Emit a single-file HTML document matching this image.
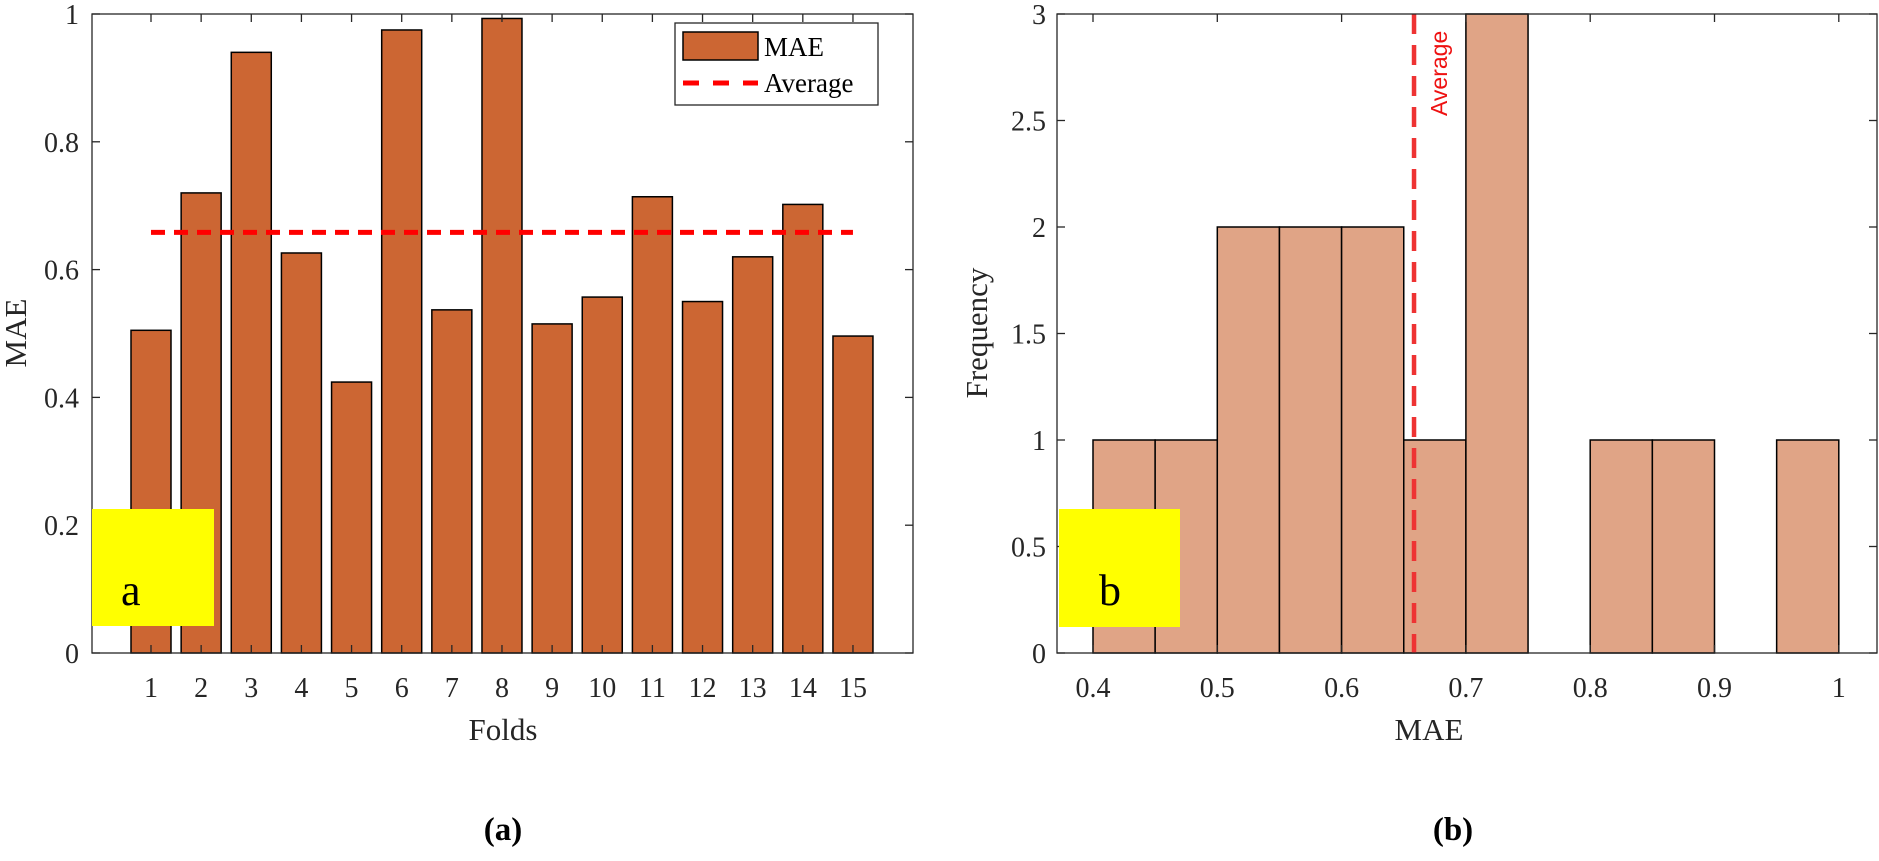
<!DOCTYPE html>
<html><head><meta charset="utf-8"><style>
html,body{margin:0;padding:0;background:#fff;}
svg{display:block;font-family:"Liberation Serif",serif;}
</style></head><body>
<svg id="c" width="1879" height="861" viewBox="0 0 1879 861" xmlns="http://www.w3.org/2000/svg"></svg>
<script>
const folds=[1,2,3,4,5,6,7,8,9,10,11,12,13,14,15];
const maeValues=[0.505,0.72,0.94,0.626,0.424,0.975,0.537,0.993,0.515,0.557,0.714,0.55,0.62,0.702,0.496];
const leftYTicks=[0,0.2,0.4,0.6,0.8,1];
const leftYTickLabels=['0','0.2','0.4','0.6','0.8','1'];
const binEdges=[0.4,0.45,0.5,0.55,0.6,0.65,0.7,0.75,0.8,0.85,0.9,0.95,1.0];
const binCounts=[1,1,2,2,2,1,3,0,1,1,0,1];
const rightXTicks=[0.4,0.5,0.6,0.7,0.8,0.9,1];
const rightXTickLabels=['0.4','0.5','0.6','0.7','0.8','0.9','1'];
const rightYTicks=[0,0.5,1,1.5,2,2.5,3];
const rightYTickLabels=['0','0.5','1','1.5','2','2.5','3'];

const NS='http://www.w3.org/2000/svg';
const svg=document.getElementById('c');
function mk(tag,attrs,parent,text){const e=document.createElementNS(NS,tag);for(const k in attrs)e.setAttribute(k,attrs[k]);if(text!==undefined)e.textContent=text;(parent||svg).appendChild(e);return e;}

const TF=28, AF=31;
// ---------- Left chart ----------
const L={x0:92,x1:913,y0:14,y1:653};
const lx=f=>151+(f-1)*50.14;
const ly=v=>L.y1-v*(L.y1-L.y0);
const gL=mk('g',{});


const bw=40;
maeValues.forEach((v,i)=>{
  const r=mk('rect',{x:lx(folds[i])-bw/2,y:ly(v),width:bw,height:ly(0)-ly(v),fill:'#CC6633',stroke:'#000','stroke-width':1.5},gL);
  
  
});
const avg=maeValues.reduce((a,b)=>a+b,0)/maeValues.length;
const avgLine=mk('line',{x1:lx(folds[0]),x2:lx(folds[folds.length-1]),y1:ly(avg),y2:ly(avg),stroke:'#FF0000','stroke-width':5,'stroke-dasharray':'14 9'},gL);


const frameL=mk('rect',{x:L.x0,y:L.y0,width:L.x1-L.x0,height:L.y1-L.y0,fill:'none',stroke:'#262626','stroke-width':1.3},gL);


folds.forEach(f=>{
  mk('line',{x1:lx(f),x2:lx(f),y1:L.y1,y2:L.y1-8,stroke:'#262626','stroke-width':1.3},gL);
  mk('line',{x1:lx(f),x2:lx(f),y1:L.y0,y2:L.y0+8,stroke:'#262626','stroke-width':1.3},gL);
  const t=mk('text',{x:lx(f),y:697,'text-anchor':'middle','font-size':TF,fill:'#262626'},gL,String(f));
  
  
});
leftYTicks.forEach((v,i)=>{
  mk('line',{x1:L.x0,x2:L.x0+8,y1:ly(v),y2:ly(v),stroke:'#262626','stroke-width':1.3},gL);
  mk('line',{x1:L.x1,x2:L.x1-8,y1:ly(v),y2:ly(v),stroke:'#262626','stroke-width':1.3},gL);
  const t=mk('text',{x:79,y:ly(v)+10,'text-anchor':'end','font-size':TF,fill:'#262626'},gL,leftYTickLabels[i]);
  
  
});
// legend
const leg=mk('g',{},gL);


mk('rect',{x:675,y:23,width:203,height:82,fill:'#fff',stroke:'#262626','stroke-width':1.3},leg);
const lp=mk('rect',{x:683,y:32,width:75,height:28,fill:'#CC6633',stroke:'#000','stroke-width':1.5},leg);


mk('text',{x:764,y:56,'font-size':27,fill:'#000'},leg,'MAE');
const ld=mk('line',{x1:683,x2:758,y1:83,y2:83,stroke:'#FF0000','stroke-width':5,'stroke-dasharray':'16 14'},leg);


mk('text',{x:764,y:92,'font-size':27,fill:'#000'},leg,'Average');
const xtL=mk('text',{x:503,y:740,'text-anchor':'middle','font-size':AF,fill:'#262626'},gL,'Folds');


const ytL=mk('text',{x:0,y:0,'text-anchor':'middle','font-size':AF,fill:'#262626',transform:'translate(26,333) rotate(-90)'},gL,'MAE');


const yA=mk('rect',{x:92,y:509,width:122,height:117,fill:'#FFFF00'},gL);


mk('text',{x:121,y:605,'font-size':44,fill:'#000'},gL,'a');
const capA=mk('text',{x:503,y:840,'text-anchor':'middle','font-size':33,'font-weight':'bold',fill:'#000'},gL,'(a)');



// ---------- Right chart ----------
const R={x0:1057,x1:1877,y0:14,y1:653};
const rx=v=>1093+(v-0.4)*1243;
const ry=v=>R.y1-v/3*(R.y1-R.y0);
const gR=mk('g',{});


binCounts.forEach((c,i)=>{
  if(c<=0)return;
  const r=mk('rect',{x:rx(binEdges[i]),y:ry(c),width:rx(binEdges[i+1])-rx(binEdges[i]),height:ry(0)-ry(c),fill:'#E0A486',stroke:'#000','stroke-width':1.5},gR);
  
  
});
const vl=mk('line',{x1:rx(avg),x2:rx(avg),y1:R.y0,y2:R.y1,stroke:'#EE3333','stroke-width':4.5,'stroke-dasharray':'20 11'},gR);


const at=mk('text',{x:0,y:0,'font-size':23,fill:'#EE1111','font-family':'Liberation Sans, sans-serif',transform:'translate('+(rx(avg)+33)+',116) rotate(-90)'},gR,'Average');


mk('rect',{x:R.x0,y:R.y0,width:R.x1-R.x0,height:R.y1-R.y0,fill:'none',stroke:'#262626','stroke-width':1.3},gR);
rightXTicks.forEach((v,i)=>{
  mk('line',{x1:rx(v),x2:rx(v),y1:R.y1,y2:R.y1-8,stroke:'#262626','stroke-width':1.3},gR);
  mk('line',{x1:rx(v),x2:rx(v),y1:R.y0,y2:R.y0+8,stroke:'#262626','stroke-width':1.3},gR);
  const t=mk('text',{x:rx(v),y:697,'text-anchor':'middle','font-size':TF,fill:'#262626'},gR,rightXTickLabels[i]);
  
  
});
rightYTicks.forEach((v,i)=>{
  mk('line',{x1:R.x0,x2:R.x0+8,y1:ry(v),y2:ry(v),stroke:'#262626','stroke-width':1.3},gR);
  mk('line',{x1:R.x1,x2:R.x1-8,y1:ry(v),y2:ry(v),stroke:'#262626','stroke-width':1.3},gR);
  const t=mk('text',{x:1046,y:ry(v)+10,'text-anchor':'end','font-size':TF,fill:'#262626'},gR,rightYTickLabels[i]);
  
  
});
const xtR=mk('text',{x:1429,y:740,'text-anchor':'middle','font-size':AF,fill:'#262626'},gR,'MAE');


const ytR=mk('text',{x:0,y:0,'text-anchor':'middle','font-size':AF,fill:'#262626',transform:'translate(987,333) rotate(-90)'},gR,'Frequency');


const yB=mk('rect',{x:1059,y:509,width:121,height:118,fill:'#FFFF00'},gR);


mk('text',{x:1099,y:605,'font-size':44,fill:'#000'},gR,'b');
const capB=mk('text',{x:1453,y:840,'text-anchor':'middle','font-size':33,'font-weight':'bold',fill:'#000'},gR,'(b)');


</script>
</body></html>
